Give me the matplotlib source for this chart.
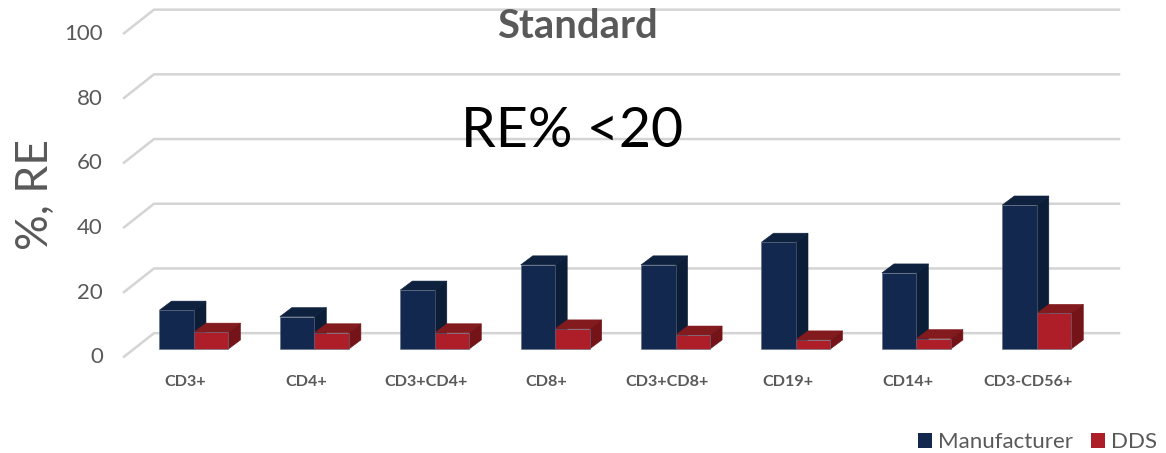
import matplotlib
matplotlib.use('Agg')
import matplotlib.pyplot as plt
from matplotlib.patches import Polygon, Patch

plt.rcParams['font.family'] = ['Lato', 'DejaVu Sans']

categories = ['CD3+', 'CD4+', 'CD3+CD4+', 'CD8+', 'CD3+CD8+', 'CD19+', 'CD14+', 'CD3-CD56+']
manufacturer = [12, 10, 18.2, 26, 26, 33, 23.5, 44.5]
dds = [5.2, 5, 5, 6.2, 4.3, 2.8, 3.2, 11]
yticks = [0, 20, 40, 60, 80, 100]

W, H = 1166, 453
fig = plt.figure(figsize=(W / 100, H / 100), dpi=100)
# plot box: x 124..1119 px, y value 0 at 349 px and 100 at 25.5 px
ax = fig.add_axes([124 / W, (H - 349) / H, (1119 - 124) / W, (349 - 25.5) / H])
ax.set_xlim(-0.581, 7.683)
ax.set_ylim(0, 100)
ax.axis('off')

bar_w = 0.2865
depth_x = 0.1
depth_y = 2.8
grid_x = 30 / 120.4
grid_front = -2.4
grid_back = 4.9


def draw_bar(x, value, front, top, side):
    ax.bar(x, value, width=bar_w, align='edge', color=front, edgecolor='#5d6a80',
           linewidth=0.4, zorder=3, clip_on=False)
    ax.add_patch(Polygon([(x, value), (x + depth_x, value + depth_y),
                          (x + bar_w + depth_x, value + depth_y), (x + bar_w, value)],
                         facecolor=top, edgecolor=top, linewidth=0.4, zorder=2, clip_on=False))
    ax.add_patch(Polygon([(x + bar_w, 0), (x + bar_w + depth_x, depth_y),
                          (x + bar_w + depth_x, value + depth_y), (x + bar_w, value)],
                         facecolor=side, edgecolor=side, linewidth=0.4, zorder=2, clip_on=False))


# floor and wall gridlines
x0, x1 = ax.get_xlim()
for v in yticks:
    ax.plot([x0, x0 + grid_x, x1], [v + grid_front, v + grid_back, v + grid_back],
            color='#d4d4d4', lw=1.8, zorder=1, clip_on=False, solid_joinstyle='miter')
    ax.text(x0 - 0.175, v - 2.6, str(v), ha='right', va='center', fontsize=16, color='#595959')

for i, name in enumerate(categories):
    draw_bar(i - bar_w, manufacturer[i], '#12284f', '#0e2240', '#0c1d38')
    draw_bar(i, dds[i], '#ae1e28', '#831a1e', '#741318')
    ax.text(i - 0.07, -10.2, name, ha='center', va='center', fontsize=11.6, fontweight='bold',
            color='#595959')

fig.text(577 / W, 1 - 26 / H, 'Standard', ha='center', va='center', fontsize=28.8,
         fontweight='bold', color='#595959')
fig.text(572 / W, 1 - 132 / H, 'RE% <20', ha='center', va='center', fontsize=40, color='black')
fig.text(35 / W, 1 - 195 / H, '%, RE', ha='center', va='center', rotation=90, fontsize=32,
         color='#595959')

handles = [Patch(facecolor='#12284f', label='Manufacturer'), Patch(facecolor='#ae1e28', label='DDS')]
fig.legend(handles=handles, ncol=2, loc='lower right', bbox_to_anchor=(1157 / W, 0.5 / H),
           frameon=False, fontsize=16, labelcolor='#595959', handlelength=0.63, handleheight=0.63,
           handletextpad=0.27, columnspacing=0.8, borderpad=0, borderaxespad=0)

fig.savefig('out.png', dpi=100)
